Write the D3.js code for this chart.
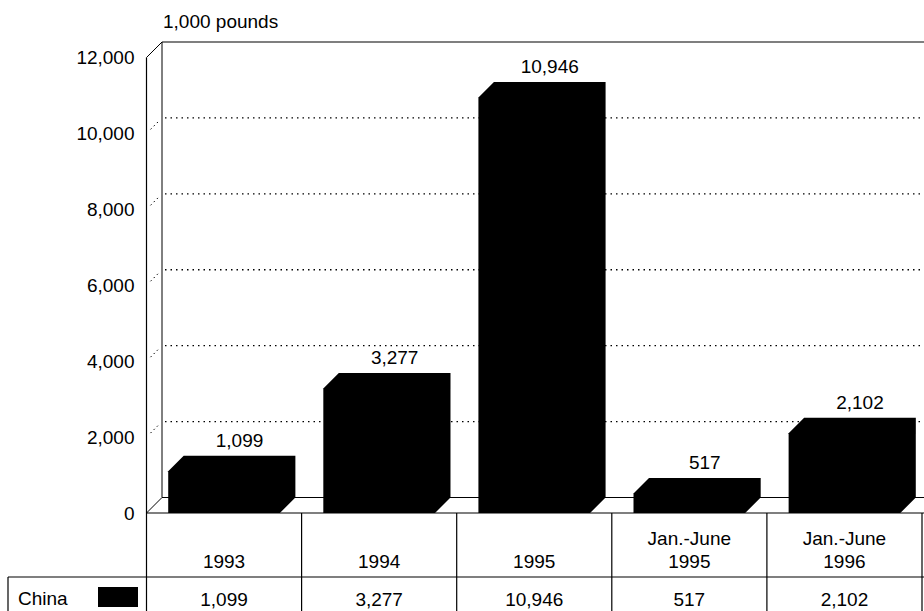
<!DOCTYPE html>
<html>
<head>
<meta charset="utf-8">
<script src="https://cdn.jsdelivr.net/npm/d3@7"></script>
<style>
  html, body { margin: 0; padding: 0; background: #fff; }
  svg { display: block; font-family: "Liberation Sans", Arial, Helvetica, sans-serif; }
  .lbl { font-size: 19px; fill: #000; }
</style>
</head>
<body>
<svg id="chart" width="924" height="611"></svg>
<script>
// chart data
var categories = [["1993"], ["1994"], ["1995"], ["Jan.-June", "1995"], ["Jan.-June", "1996"]];
var chinaValues = [1099, 3277, 10946, 517, 2102];
var yTicks = [0, 2000, 4000, 6000, 8000, 10000, 12000];
var seriesName = "China";
var unitLabel = "1,000 pounds";

var svg = d3.select('#chart'),
    W = 924, H = 611,
    axisX = 146.5,          // front axis
    dx = 15.5, dy = -15.5,  // 3d depth offset
    tableLeft = 8,
    tableRight = 922,
    rowTop = 513, rowMid = 577,
    fmt = d3.format(',');

var keys = categories.map(function(c) { return c.join(' '); });

var col = d3.scaleBand()
    .domain(keys)
    .range([axisX, tableRight]);

var yFront = d3.scaleLinear()
    .domain([0, 12000])
    .range([513, 57.5]);

function yBack(v) { return yFront(v) + dy; }

var g = svg.append('g');

// back wall: top border, left edge, dotted gridlines
g.append('line')
    .attr('x1', axisX + dx).attr('x2', W + 5)
    .attr('y1', yBack(12000)).attr('y2', yBack(12000))
    .attr('stroke', '#000').attr('stroke-width', 1.2);

g.append('line')
    .attr('x1', axisX + dx).attr('x2', axisX + dx)
    .attr('y1', yBack(12000)).attr('y2', yBack(0))
    .attr('stroke', '#000').attr('stroke-width', 1);

g.selectAll('.grid')
    .data(yTicks.filter(function(t) { return t > 0 && t < 12000; }))
    .enter().append('line')
    .attr('class', 'grid')
    .attr('x1', axisX + dx + 3).attr('x2', W)
    .attr('y1', yBack).attr('y2', yBack)
    .attr('stroke', '#000').attr('stroke-width', 1.3)
    .attr('stroke-dasharray', '1.5,4');

// little dotted connectors from front axis to wall
g.selectAll('.conn')
    .data(yTicks.filter(function(t) { return t > 0 && t < 12000; }))
    .enter().append('line')
    .attr('class', 'conn')
    .attr('x1', axisX + 4).attr('x2', axisX + dx - 3)
    .attr('y1', function(d) { return yFront(d) - 4; })
    .attr('y2', function(d) { return yBack(d) + 3; })
    .attr('stroke', '#000').attr('stroke-width', 1)
    .attr('stroke-dasharray', '1.5,3');

// side wall top diagonal + floor
g.append('line')
    .attr('x1', axisX).attr('y1', yFront(12000))
    .attr('x2', axisX + dx).attr('y2', yBack(12000))
    .attr('stroke', '#000');

g.append('line')
    .attr('x1', axisX).attr('y1', yFront(0))
    .attr('x2', axisX + dx).attr('y2', yBack(0))
    .attr('stroke', '#000');

g.append('line')
    .attr('x1', axisX + dx).attr('x2', W + 5)
    .attr('y1', yBack(0)).attr('y2', yBack(0))
    .attr('stroke', '#000').attr('stroke-width', 1.2);

// front axis
g.append('line')
    .attr('x1', axisX).attr('x2', axisX)
    .attr('y1', yFront(12000)).attr('y2', H)
    .attr('stroke', '#000').attr('stroke-width', 1.2);

// tick labels
var yAxis = d3.axisLeft(yFront)
    .tickValues(yTicks)
    .tickSize(0)
    .tickPadding(12)
    .tickFormat(fmt);

var ax = g.append('g')
    .attr('transform', 'translate(' + axisX + ',0)')
    .call(yAxis);
ax.select('.domain').remove();
ax.selectAll('text')
    .attr('class', 'lbl')
    .attr('font-family', null)
    .attr('font-size', null)
    .attr('fill', '#000');

// unit label
g.append('text')
    .attr('class', 'lbl')
    .attr('x', axisX + dx + 1)
    .attr('y', 28)
    .text(unitLabel);

// 3d bars, drawn as filled silhouettes
var barW = col.bandwidth() * 0.72,
    barOff = col.bandwidth() * 0.14;

function barPath(d, i) {
    var x0 = col(keys[i]) + barOff,
        x1 = x0 + barW,
        yb = yFront(0),
        yt = yFront(d);
    return 'M' + x0 + ',' + yb +
        'L' + x0 + ',' + yt +
        'L' + (x0 + dx) + ',' + (yt + dy) +
        'L' + (x1 + dx) + ',' + (yt + dy) +
        'L' + (x1 + dx) + ',' + (yb + dy) +
        'L' + x1 + ',' + yb + 'Z';
}

g.selectAll('.bar')
    .data(chinaValues)
    .enter().append('path')
    .attr('class', 'bar')
    .attr('d', barPath)
    .attr('fill', '#000');

// value labels above bars
g.selectAll('.val')
    .data(chinaValues)
    .enter().append('text')
    .attr('class', 'lbl val')
    .attr('text-anchor', 'middle')
    .attr('x', function(d, i) { return col(keys[i]) + barOff + dx + barW / 2; })
    .attr('y', function(d) { return yBack(d) - 9; })
    .text(fmt);

// data table
var table = svg.append('g');

table.append('line')
    .attr('x1', axisX).attr('x2', W + 5)
    .attr('y1', rowTop).attr('y2', rowTop)
    .attr('stroke', '#000').attr('stroke-width', 1.2);

table.append('line')
    .attr('x1', tableLeft).attr('x2', W + 5)
    .attr('y1', rowMid).attr('y2', rowMid)
    .attr('stroke', '#000').attr('stroke-width', 1.2);

table.append('line')
    .attr('x1', tableLeft).attr('x2', tableLeft)
    .attr('y1', rowMid).attr('y2', H)
    .attr('stroke', '#000').attr('stroke-width', 1.2);

table.selectAll('.vdiv')
    .data(keys)
    .enter().append('line')
    .attr('class', 'vdiv')
    .attr('x1', function(k) { return col(k) + col.bandwidth(); })
    .attr('x2', function(k) { return col(k) + col.bandwidth(); })
    .attr('y1', rowTop).attr('y2', H)
    .attr('stroke', '#000').attr('stroke-width', 1.2);

// category labels (one or two lines)
var cat = table.selectAll('.cat')
    .data(categories)
    .enter().append('text')
    .attr('class', 'lbl cat')
    .attr('text-anchor', 'middle');

cat.selectAll('tspan')
    .data(function(c, i) { return c.map(function(t, j) { return { t: t, i: i, j: j, n: c.length }; }); })
    .enter().append('tspan')
    .attr('x', function(d) { return col(keys[d.i]) + col.bandwidth() / 2; })
    .attr('y', function(d) { return 568 - (d.n - 1 - d.j) * 23; })
    .text(function(d) { return d.t; });

// series row
table.append('text')
    .attr('class', 'lbl')
    .attr('x', 18)
    .attr('y', 605)
    .text(seriesName);

table.append('rect')
    .attr('x', 98).attr('y', 587)
    .attr('width', 40).attr('height', 20)
    .attr('fill', '#000');

table.selectAll('.cell')
    .data(chinaValues)
    .enter().append('text')
    .attr('class', 'lbl cell')
    .attr('text-anchor', 'middle')
    .attr('x', function(d, i) { return col(keys[i]) + col.bandwidth() / 2; })
    .attr('y', 606)
    .text(fmt);
</script>
</body>
</html>
